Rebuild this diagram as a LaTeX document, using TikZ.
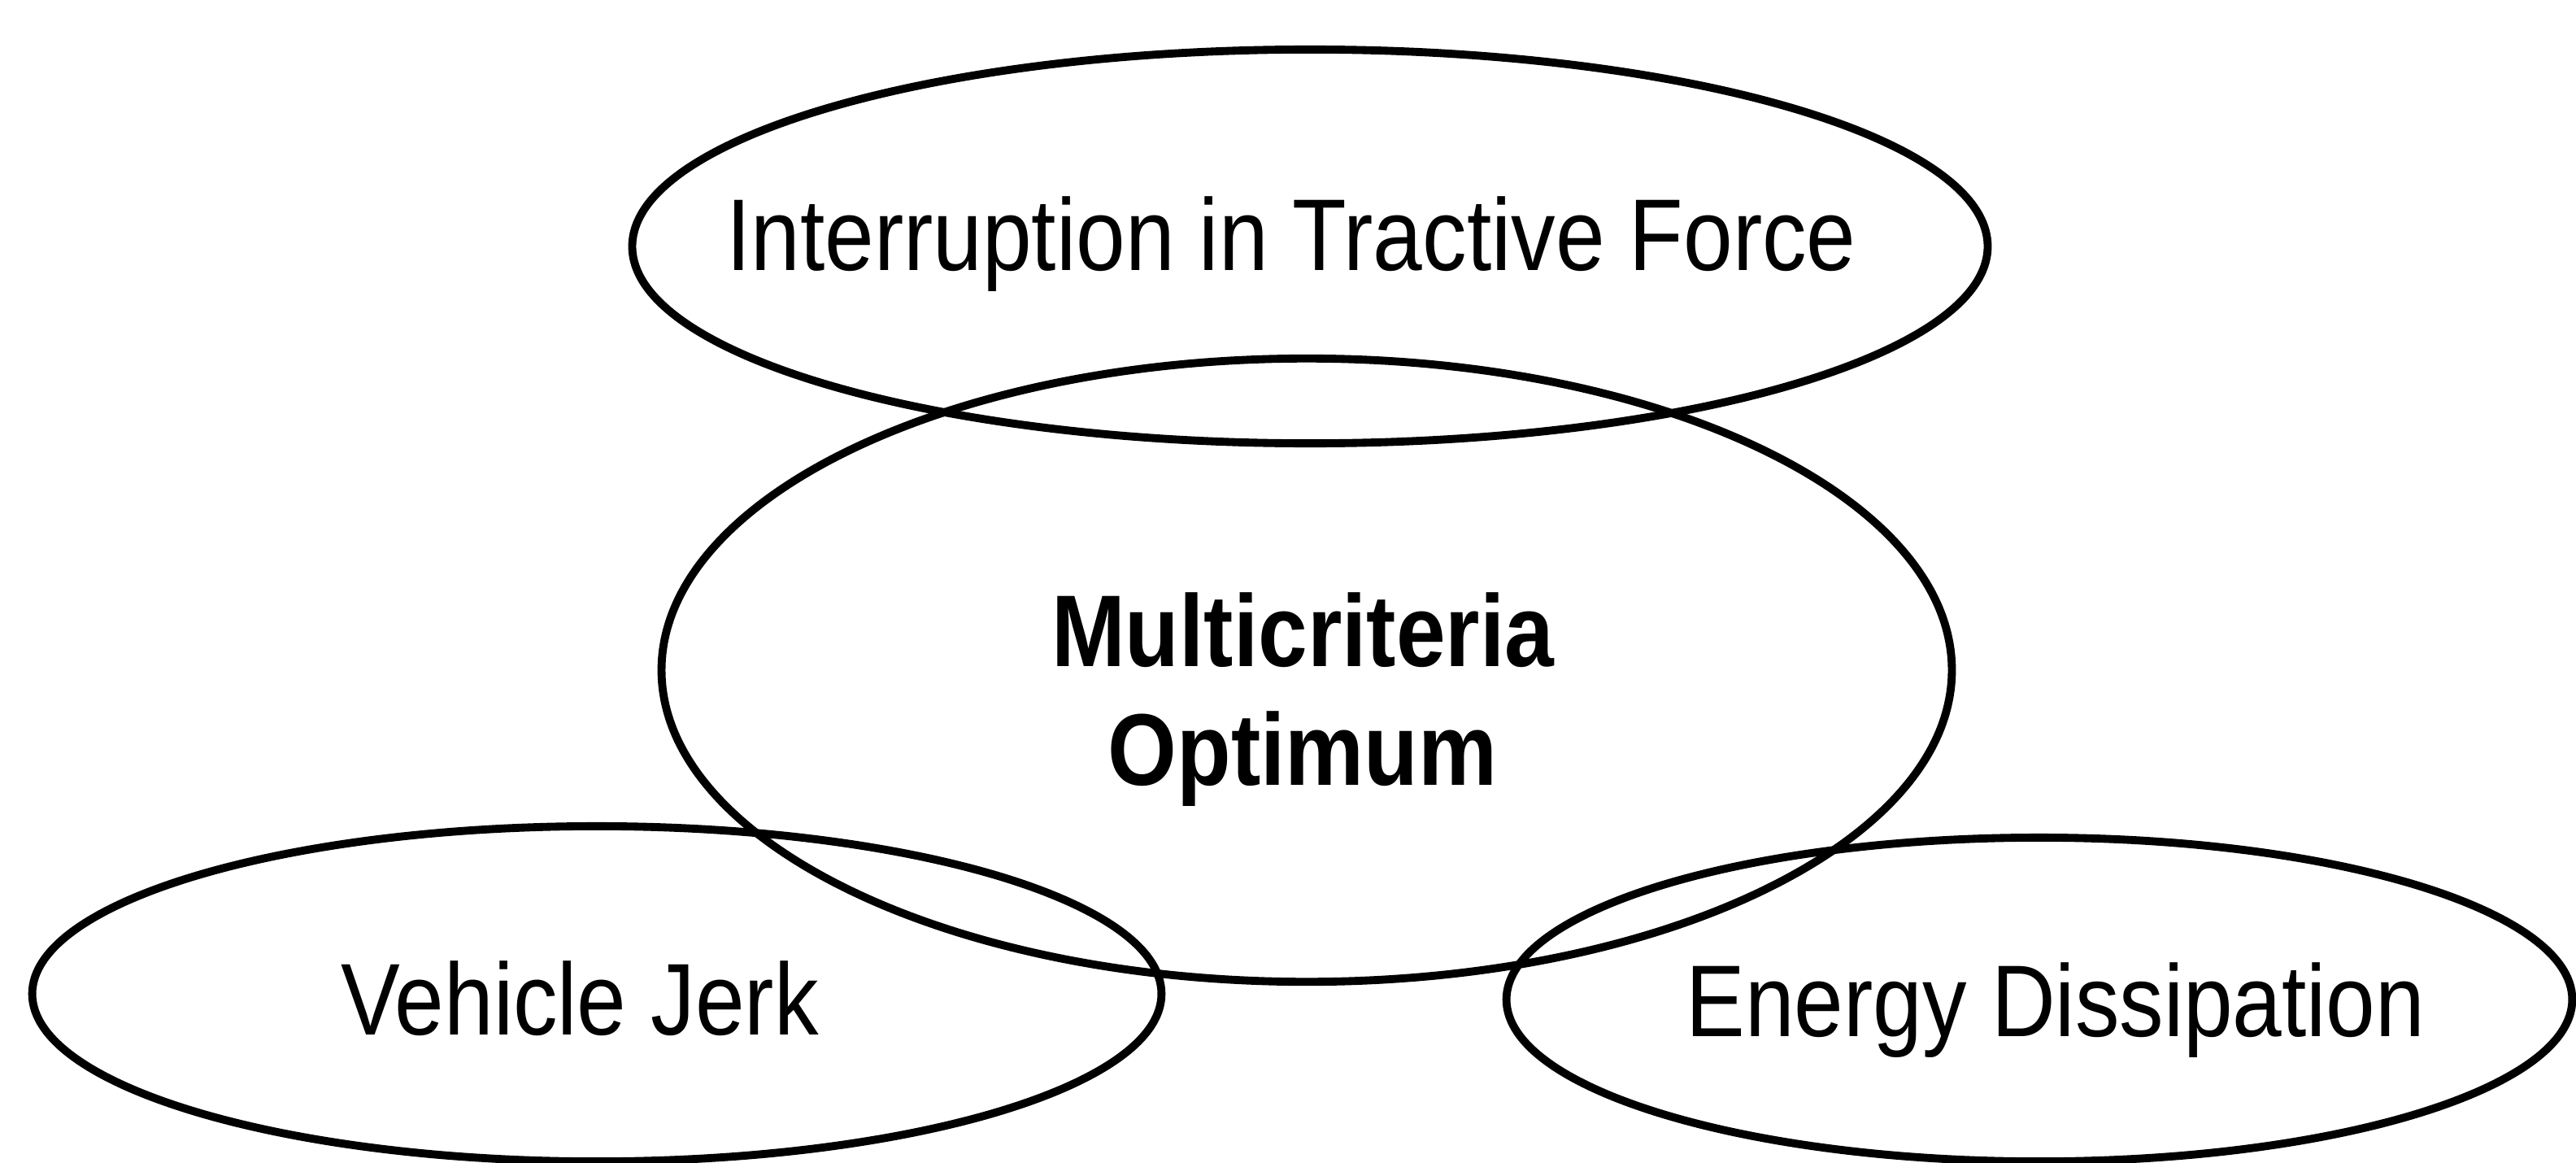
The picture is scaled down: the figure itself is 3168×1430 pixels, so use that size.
\documentclass[tikz,border=0pt]{standalone}
\usepackage{fontspec}
\setmainfont{Liberation Sans}
\usetikzlibrary{shapes.geometric}
\newcommand{\tallt}[1]{\scalebox{1}[1.15]{#1}}
\begin{document}
\begin{tikzpicture}[x=0.01cm,y=-0.01cm,
  oval/.style={draw=black,ellipse,line width=2.8pt,inner sep=0pt,outer sep=0pt},
  lbl/.style={font=\fontsize{31pt}{41.5pt}\selectfont,align=center,inner sep=0pt}]
\useasboundingbox[fill=white] (0,0) rectangle (3168,1430);
\node[oval,minimum width=16.66cm,minimum height=4.84cm] (top) at (1611,303) {};
\node[oval,minimum width=15.86cm,minimum height=7.66cm] (mid) at (1607,824) {};
\node[oval,minimum width=13.88cm,minimum height=4.12cm] (left) at (734,1222) {};
\node[oval,minimum width=13.10cm,minimum height=3.98cm] (right) at (2508,1229) {};
\node[lbl] (toptext) at (1588,300) {\tallt{Interruption in Tractive Force}};
\node[lbl,font=\fontsize{31pt}{41.5pt}\selectfont\bfseries] (midtext) at (1602,860) {\tallt{Multicriteria}\\\tallt{Optimum}};
\node[lbl] (lefttext) at (713,1228) {\tallt{Vehicle Jerk}};
\node[lbl] (righttext) at (2528,1242) {\tallt{Energy Dissipation}};
\end{tikzpicture}
\end{document}
